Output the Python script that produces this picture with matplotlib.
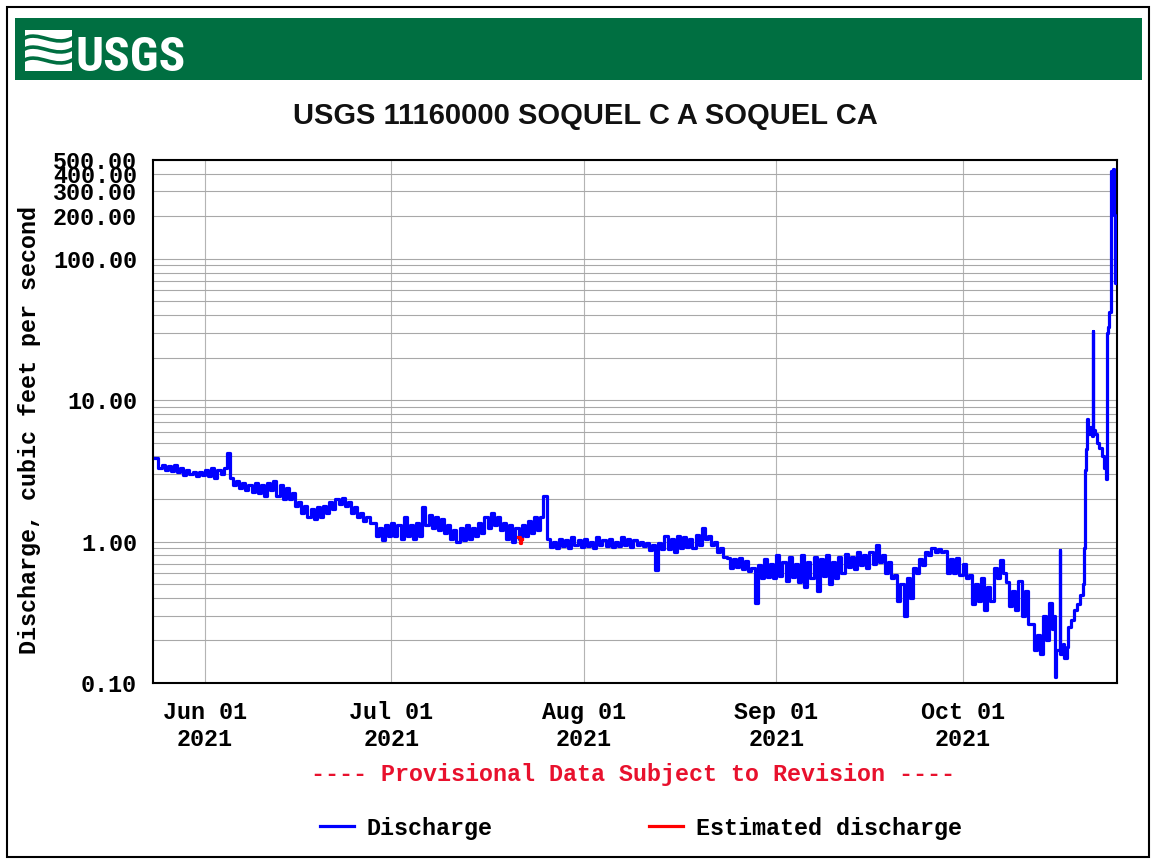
import numpy as np
import matplotlib
matplotlib.use("Agg")
import matplotlib.pyplot as plt
from matplotlib.patches import Rectangle, PathPatch
from matplotlib.path import Path
from matplotlib.ticker import LogLocator, NullFormatter

W, H = 1154, 863
MONO = ["Liberation Mono", "DejaVu Sans Mono"]
SANS = ["Liberation Sans", "DejaVu Sans"]
FS = 16.8

# ---------------------------------------------------------------- data
station_title = "USGS 11160000 SOQUEL C A SOQUEL CA"
first_day = "2021-05-24"

# discharge (cfs) at 00:00 and 12:00 of each day, May 24 - Oct 14 2021
q_midnight = [
    3.9, 3.5, 3.4, 3.5, 3.3, 3.2, 3.1, 3.1, 3.2, 3.3,
    3.2, 3.3, 2.8, 2.7, 2.6, 2.5, 2.6, 2.5, 2.6, 2.7,
    2.5, 2.4, 2.2, 1.9, 1.8, 1.7, 1.75, 1.8, 1.9, 2.0,
    2.05, 1.9, 1.75, 1.6, 1.5, 1.35, 1.25, 1.3, 1.35, 1.3,
    1.5, 1.3, 1.35, 1.75, 1.55, 1.5, 1.45, 1.3, 1.2, 1.25,
    1.3, 1.25, 1.35, 1.5, 1.6, 1.5, 1.35, 1.3, 1.25, 1.3,
    1.4, 1.5, 1.5, 1.05, 1.0, 1.05, 1.02, 1.08, 1.03, 1.05,
    1.0, 1.08, 1.02, 1.05, 1.0, 1.08, 1.05, 1.03, 1.0, 0.97,
    0.95, 0.98, 1.1, 1.05, 1.1, 1.08, 1.05, 1.12, 1.24, 1.1,
    1.0, 0.9, 0.77, 0.75, 0.77, 0.73, 0.65, 0.68, 0.75, 0.7,
    0.81, 0.72, 0.78, 0.7, 0.8, 0.72, 0.78, 0.75, 0.8, 0.72,
    0.78, 0.82, 0.78, 0.85, 0.8, 0.84, 0.94, 0.8, 0.72, 0.58,
    0.5, 0.55, 0.65, 0.75, 0.85, 0.9, 0.88, 0.86, 0.75, 0.77,
    0.7, 0.58, 0.5, 0.55, 0.48, 0.65, 0.74, 0.52, 0.45, 0.53,
    0.45, 0.26, 0.22, 0.3,
]
q_noon = [
    3.3, 3.2, 3.15, 3.1, 2.95, 3.0, 2.9, 2.95, 2.9, 2.8,
    3.0, 4.2, 2.5, 2.4, 2.3, 2.25, 2.2, 2.1, 2.3, 2.1,
    2.0, 2.0, 1.8, 1.6, 1.5, 1.45, 1.5, 1.6, 1.7, 1.85,
    1.8, 1.6, 1.5, 1.4, 1.35, 1.1, 1.02, 1.1, 1.1, 1.05,
    1.1, 1.05, 1.1, 1.3, 1.25, 1.2, 1.15, 1.05, 1.0, 1.02,
    1.05, 1.1, 1.15, 1.25, 1.3, 1.2, 1.05, 1.0, 1.05, 1.1,
    1.15, 1.2, 2.1, 0.92, 0.9, 0.93, 0.9, 0.95, 0.92, 0.93,
    0.9, 0.95, 0.93, 0.91, 0.93, 0.95, 0.92, 0.95, 0.93, 0.87,
    0.63, 0.88, 0.88, 0.85, 0.9, 0.92, 0.9, 0.95, 1.05, 0.95,
    0.85, 0.78, 0.65, 0.66, 0.64, 0.62, 0.37, 0.55, 0.56, 0.55,
    0.57, 0.53, 0.56, 0.52, 0.48, 0.55, 0.45, 0.57, 0.5, 0.55,
    0.6, 0.66, 0.64, 0.68, 0.65, 0.7, 0.72, 0.6, 0.55, 0.38,
    0.3, 0.4, 0.6, 0.68, 0.8, 0.84, 0.84, 0.6, 0.6, 0.58,
    0.55, 0.36, 0.38, 0.33, 0.38, 0.55, 0.6, 0.35, 0.33, 0.3,
    0.26, 0.17, 0.16, 0.2,
]

# finer record for the mid/late October rains
storm_time = [
    "2021-10-15T00:00", "2021-10-15T08:00", "2021-10-15T16:00", "2021-10-15T21:00",
    "2021-10-16T00:00", "2021-10-16T15:00", "2021-10-16T17:00", "2021-10-17T04:00",
    "2021-10-17T10:00", "2021-10-17T20:00", "2021-10-18T00:00", "2021-10-18T12:00",
    "2021-10-19T00:00", "2021-10-19T12:00", "2021-10-19T22:00", "2021-10-20T08:00",
    "2021-10-20T14:00", "2021-10-20T17:00", "2021-10-20T20:00", "2021-10-21T00:00",
    "2021-10-21T06:00", "2021-10-21T12:00", "2021-10-21T20:00", "2021-10-21T23:00",
    "2021-10-22T01:00", "2021-10-22T08:00", "2021-10-22T16:00", "2021-10-23T00:00",
    "2021-10-23T10:00", "2021-10-23T20:00", "2021-10-24T03:00", "2021-10-24T05:00",
    "2021-10-24T09:00", "2021-10-24T14:00", "2021-10-24T20:00", "2021-10-24T23:00",
    "2021-10-25T06:00", "2021-10-25T10:00", "2021-10-25T14:00", "2021-10-25T17:00",
]
storm_q = [
    0.37, 0.24, 0.30, 0.11,
    0.17, 0.87, 0.16, 0.19,
    0.15, 0.18, 0.25, 0.28,
    0.33, 0.36, 0.42, 0.50,
    0.9, 3.2, 4.5, 7.4,
    5.8, 6.5, 5.6, 31.0,
    6.2, 5.8, 5.0, 4.6,
    4.0, 3.3, 2.75, 30.0,
    33.0, 42.0, 50.0, 420.0,
    430.0, 205.0, 67.0, 67.0,
]

# estimated values in late July
est_time = ["2021-07-21T10:00", "2021-07-21T16:00", "2021-07-21T22:00", "2021-07-22T02:00"]
est_q = [1.08, 0.98, 1.04, 1.04]

ytick_values = [0.1, 1, 10, 100, 200, 300, 400, 500]
ytick_labels = ["0.10", "1.00", "10.00", "100.00", "200.00", "300.00", "400.00", "500.00"]
month_ticks = ["2021-06-01", "2021-07-01", "2021-08-01", "2021-09-01", "2021-10-01"]
month_labels = ["Jun 01\n2021", "Jul 01\n2021", "Aug 01\n2021", "Sep 01\n2021", "Oct 01\n2021"]

# ------------------------------------------------------- build series
day0 = np.datetime64(first_day, "m")
days = day0 + np.arange(len(q_midnight)) * np.timedelta64(1, "D")
t_daily = np.empty(2 * len(days), dtype="datetime64[m]")
t_daily[0::2] = days
t_daily[1::2] = days + np.timedelta64(12, "h")
q_daily = np.empty(2 * len(days))
q_daily[0::2] = q_midnight
q_daily[1::2] = q_noon
t_all = np.concatenate([t_daily, np.array(storm_time, dtype="datetime64[m]")])
q_all = np.concatenate([q_daily, np.array(storm_q)])
t_est = np.array(est_time, dtype="datetime64[m]")

# ------------------------------------------------------------- figure
plt.rcParams["font.family"] = MONO
plt.rcParams["font.weight"] = "bold"
fig = plt.figure(figsize=(W / 100, H / 100), dpi=100)
fig.patch.set_facecolor("white")

# page furniture drawn in pixel coordinates
bg = fig.add_axes([0, 0, 1, 1], zorder=0)
bg.set_xlim(0, W)
bg.set_ylim(H, 0)
bg.axis("off")
bg.add_patch(Rectangle((7, 7), 1142, 850, fill=False, ec="black", lw=1.5))
bg.add_patch(Rectangle((15, 18), 1127, 62, fc="#006f41", ec="none"))

# USGS identifier: wave mark + wordmark
bg.add_patch(Rectangle((25, 30), 47, 41, fc="white", ec="none"))
for c in (39, 50, 61):
    wave = Path([(23, c), (38, c - 10), (55, c + 10), (74, c - 2)],
                [Path.MOVETO, Path.CURVE4, Path.CURVE4, Path.CURVE4])
    bg.add_patch(PathPatch(wave, fc="none", ec="#006f41", lw=2.6))
bg.text(76, 71, "USGS", color="white", fontsize=35.5, va="baseline", ha="left",
        family=["Liberation Sans Narrow", "Roboto Condensed", "Liberation Sans"],
        weight="bold")

bg.text(585, 116, station_title, ha="center", va="center", fontsize=21,
        family=SANS, weight="bold", color="#111111")
bg.text(30, 430, "Discharge, cubic feet per second", rotation=90,
        ha="center", va="center", fontsize=FS, color="black")
bg.text(633, 774, "---- Provisional Data Subject to Revision ----",
        ha="center", va="center", fontsize=FS, color="#e8112d")

# plotting area
ax = fig.add_axes([153 / W, 1 - 683 / H, 964 / W, 523 / H], zorder=1)
ax.plot(t_all, q_all, drawstyle="steps-post", color="#0000ff", lw=2.3,
        label="Discharge", zorder=3)
ax.plot(t_est, est_q, drawstyle="steps-post", color="#ff0000", lw=2.3,
        label="Estimated discharge", zorder=4)
ax.set_yscale("log")
ax.set_ylim(0.1, 500)
ax.set_xlim(np.datetime64("2021-05-23T15:00"), np.datetime64("2021-10-25T21:00"))

ax.set_yticks(ytick_values)
ax.set_yticklabels(ytick_labels)
ax.yaxis.set_minor_locator(LogLocator(base=10, subs=range(2, 10), numticks=20))
ax.yaxis.set_minor_formatter(NullFormatter())
ax.set_xticks(np.array(month_ticks, dtype="datetime64[m]"))
ax.set_xticklabels(month_labels)
ax.tick_params(which="both", length=0, labelsize=FS)
ax.tick_params(axis="y", pad=11.5)
ax.tick_params(axis="x", pad=13)
for lab in ax.get_xticklabels():
    lab.set_linespacing(1.2)

ax.set_axisbelow(True)
ax.grid(which="both", axis="y", color="#a8a8a8", lw=0.8)
ax.grid(which="major", axis="x", color="#b4b4b4", lw=0.8)
for sp in ax.spines.values():
    sp.set_linewidth(1.5)
    sp.set_color("black")

fig.legend(loc="center", bbox_to_anchor=(641 / W, 1 - 828 / H), ncol=2,
           frameon=False, handlelength=1.46, handletextpad=0.56,
           columnspacing=6.7, prop={"family": MONO, "weight": "bold", "size": FS})

fig.savefig("out.png", dpi=100, facecolor="white")
